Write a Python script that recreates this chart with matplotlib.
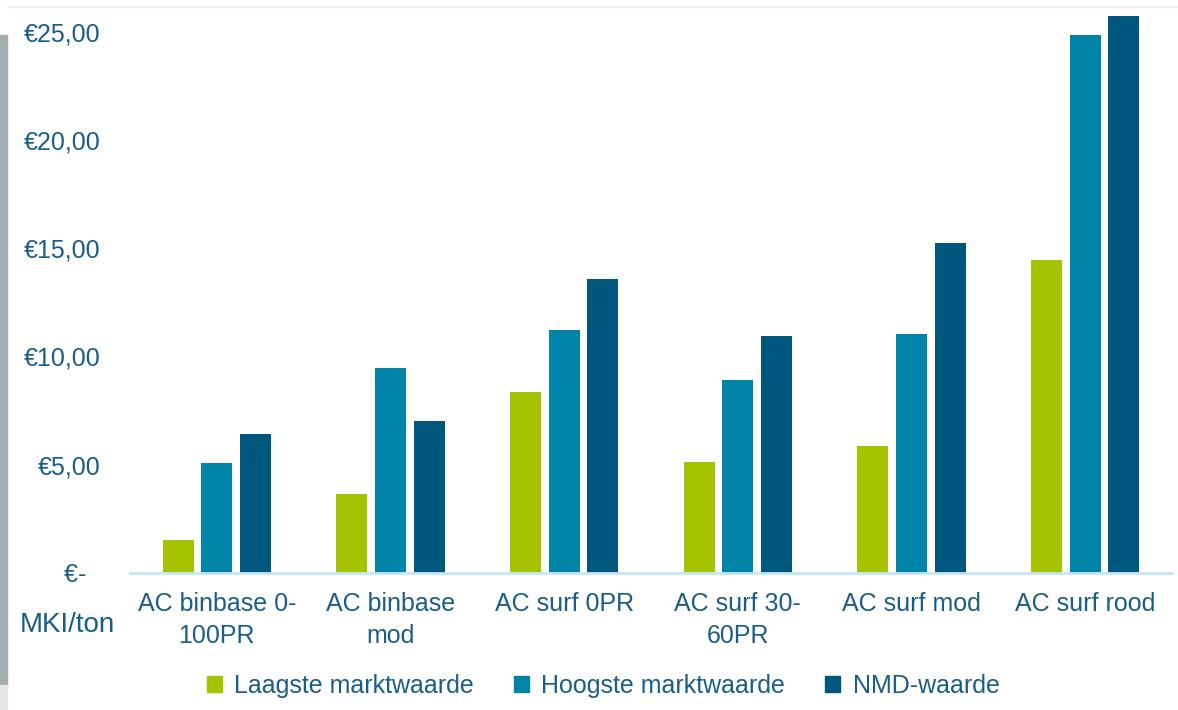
import matplotlib
matplotlib.use("Agg")
import matplotlib.pyplot as plt
from matplotlib.patches import Rectangle, Patch
import numpy as np

# data
categories = ["AC binbase 0-\n100PR", "AC binbase\nmod", "AC surf 0PR",
              "AC surf 30-\n60PR", "AC surf mod", "AC surf rood"]
laagste = [1.52, 3.65, 8.36, 5.13, 5.87, 14.46]
hoogste = [5.08, 9.47, 11.23, 8.92, 11.04, 24.86]
nmd = [6.42, 7.02, 13.59, 10.95, 15.25, 25.74]
series_names = ["Laagste marktwaarde", "Hoogste marktwaarde", "NMD-waarde"]
yticks = [0, 5, 10, 15, 20, 25]
ytick_labels = ["€-  ", "€5,00", "€10,00", "€15,00", "€20,00", "€25,00"]

colors = ["#a5c300", "#0085a8", "#00577e"]
text_color = "#1a5d87"

plt.rcParams['font.family'] = ['Liberation Sans', 'DejaVu Sans']

W, H = 1178, 710
fig = plt.figure(figsize=(W / 100, H / 100), dpi=100)
ax = fig.add_axes([130 / W, (H - 573) / H, (1172 - 130) / W, (573 - 10) / H])

x = np.arange(len(categories))
width = 0.178
offset = 0.222
for i, (vals, c) in enumerate(zip([laagste, hoogste, nmd], colors)):
    ax.bar(x + (i - 1) * offset, vals, width, color=c, label=series_names[i])

ax.set_xlim(-0.5, len(categories) - 0.5)
ax.set_ylim(0, 26)
ax.set_yticks(yticks)
ax.set_yticklabels(ytick_labels, fontsize=18, color=text_color)
ax.set_xticks(x)
ax.set_xticklabels(categories, fontsize=18, color=text_color, linespacing=1.38)
ax.tick_params(axis='both', length=0)
ax.tick_params(axis='y', pad=21.5)
ax.tick_params(axis='x', pad=14)

for s in ['top', 'right', 'left']:
    ax.spines[s].set_visible(False)
ax.spines['bottom'].set_color('#c6e5f6')
ax.spines['bottom'].set_linewidth(2)

fig.text(67 / W, 1 - 625 / H, "MKI/ton", fontsize=20, color=text_color,
         ha='center', va='center')

handles = [Patch(color=c) for c in colors]
leg = fig.legend(handles, series_names, loc='center', ncol=3,
                 bbox_to_anchor=(603 / W, 1 - 686 / H), frameon=False,
                 fontsize=18, handlelength=0.6, handleheight=0.6,
                 handletextpad=0.5, columnspacing=1.6)
for t in leg.get_texts():
    t.set_color(text_color)

# shadow edge of the screenshot
fig.patches.append(Rectangle((0, 1 - 685 / H), 7 / W, 650 / H,
                             transform=fig.transFigure, color='#a3acae',
                             zorder=-1))
fig.patches.append(Rectangle((0, 0), 7 / W, 25 / H,
                             transform=fig.transFigure, color='#e6e6e6',
                             zorder=-1))
fig.patches.append(Rectangle((7 / W, 1 - 7 / H), 1 - 7 / W, 1.5 / H,
                             transform=fig.transFigure, color='#f0f0f0',
                             zorder=-1))

fig.savefig("out.png", dpi=100)
